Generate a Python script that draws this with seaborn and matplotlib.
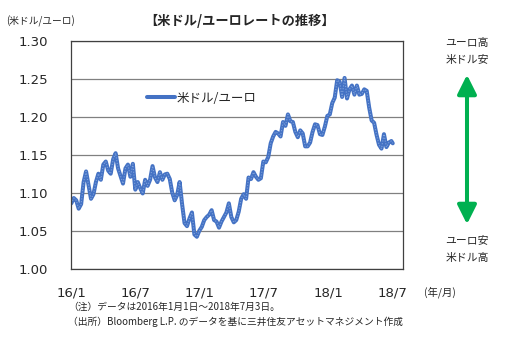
import numpy as np
import pandas as pd
import matplotlib
matplotlib.use("Agg")
import matplotlib.pyplot as plt
import matplotlib.dates as mdates
from matplotlib.patches import FancyArrowPatch
import seaborn as sns

# ---- data (weekly readings, USD per EUR) ----
rate_2016 = [1.086, 1.093, 1.090, 1.079, 1.085, 1.114, 1.128, 1.110, 1.092, 1.098,
             1.114, 1.125, 1.117, 1.137, 1.141, 1.129, 1.125, 1.144, 1.152, 1.132,
             1.122, 1.112, 1.132, 1.137, 1.121, 1.138, 1.104, 1.114, 1.106, 1.099,
             1.117, 1.109, 1.117, 1.135, 1.120, 1.114, 1.127, 1.117, 1.124, 1.125,
             1.118, 1.100, 1.090, 1.097, 1.114, 1.085, 1.060, 1.056, 1.066, 1.074,
             1.045, 1.042, 1.050]
rate_2017 = [1.055, 1.064, 1.068, 1.071, 1.077, 1.064, 1.062, 1.054, 1.062, 1.068,
             1.074, 1.086, 1.068, 1.061, 1.064, 1.075, 1.092, 1.098, 1.092, 1.120,
             1.118, 1.127, 1.121, 1.117, 1.119, 1.141, 1.140, 1.147, 1.165, 1.174,
             1.180, 1.178, 1.174, 1.193, 1.188, 1.203, 1.194, 1.193, 1.180, 1.173,
             1.182, 1.178, 1.161, 1.161, 1.166, 1.180, 1.190, 1.189, 1.177, 1.176,
             1.187, 1.201]
rate_2018 = [1.203, 1.218, 1.225, 1.248, 1.246, 1.226, 1.251, 1.224, 1.236, 1.241,
             1.229, 1.241, 1.229, 1.230, 1.236, 1.234, 1.212, 1.195, 1.192, 1.176,
             1.163, 1.158, 1.177, 1.160, 1.166, 1.168, 1.165]
rates = rate_2016 + rate_2017 + rate_2018
dates = list(pd.date_range("2016-01-01", "2018-06-29", freq="7D")) + [pd.Timestamp("2018-07-03")]

xtick_dates = ["2016-01-01", "2016-07-01", "2017-01-01", "2017-07-01", "2018-01-01", "2018-07-01"]
xtick_labels = ["16/1", "16/7", "17/1", "17/7", "18/1", "18/7"]
yticks = [1.00, 1.05, 1.10, 1.15, 1.20, 1.25, 1.30]
series_name = "米ドル/ユーロ"

df = pd.DataFrame({"date": dates, "rate": rates})

sns.set_style("white")
plt.rcParams["font.family"] = ["DejaVu Sans", "Noto Sans CJK JP"]
JP = ["Noto Sans CJK JP", "DejaVu Sans"]
TXT = "#262626"

fig = plt.figure(figsize=(5.18, 3.43), dpi=100)
W, H = 518, 343
ax = fig.add_axes([71.3 / W, 1 - 268.7 / H, (403.3 - 71.3) / W, (268.7 - 40.7) / H])

sns.lineplot(data=df, x="date", y="rate", ax=ax, color="#4472C4", lw=2.9,
             label=series_name)
# light texture inside the thick line
sns.lineplot(data=df, x="date", y="rate", ax=ax, color="#7FA2DC", lw=0.8,
             linestyle=(0, (1, 1.5)), legend=False)

ax.set_ylim(1.0, 1.3)
ax.set_yticks(yticks)
ax.set_yticklabels([f"{v:.2f}" for v in yticks])
ax.set_xlim(pd.Timestamp("2016-01-01"), pd.Timestamp("2018-08-02"))
ax.set_xticks([pd.Timestamp(d) for d in xtick_dates])
ax.set_xticklabels(xtick_labels)
ax.set_xlabel("")
ax.set_ylabel("")

ax.yaxis.grid(True, color="#808080", lw=0.9)
ax.xaxis.grid(False)
for s in ax.spines.values():
    s.set_color("#404040")
    s.set_linewidth(0.9)
ax.tick_params(axis="y", length=0, pad=17, labelsize=9.5, labelcolor=TXT)
ax.tick_params(axis="x", direction="in", length=4, width=0.8, color="#404040",
               pad=13, labelsize=9.5, labelcolor=TXT)

leg = ax.legend(loc="center left", bbox_to_anchor=((147 - 71.3) / 332, (268.7 - 98) / 228),
                frameon=False, borderpad=0, borderaxespad=0, handlelength=2.2,
                handletextpad=0.2, prop={"family": JP, "size": 9})
for t in leg.get_texts():
    t.set_color(TXT)

# texts
fig.text(240 / W, 1 - 21 / H, "【米ドル/ユーロレートの推移】", ha="center", va="center",
         fontsize=9.5, fontweight="bold", family=JP, color=TXT)
fig.text(6 / W, 1 - 21 / H, "(米ドル/ユーロ)", ha="left", va="center",
         fontsize=7, family=JP, color=TXT)
fig.text(424 / W, 1 - 292 / H, "(年/月)", ha="left", va="center",
         fontsize=7.5, family=JP, color=TXT)
fig.text(68 / W, 1 - 307 / H, "（注）データは2016年1月1日～2018年7月3日。", ha="left",
         va="center", fontsize=7, family=JP, color=TXT)
fig.text(68 / W, 1 - 322 / H, "（出所）Bloomberg L.P. のデータを基に三井住友アセットマネジメント作成",
         ha="left", va="center", fontsize=7, family=JP, color=TXT)

ax_x = 467 / W
fig.text(ax_x, 1 - 43 / H, "ユーロ高", ha="center", va="center", fontsize=7.8, family=JP, color=TXT)
fig.text(ax_x, 1 - 60 / H, "米ドル安", ha="center", va="center", fontsize=7.8, family=JP, color=TXT)
fig.text(ax_x, 1 - 240 / H, "ユーロ安", ha="center", va="center", fontsize=7.8, family=JP, color=TXT)
fig.text(ax_x, 1 - 258 / H, "米ドル高", ha="center", va="center", fontsize=7.8, family=JP, color=TXT)

arrow = FancyArrowPatch((ax_x, 1 - 72 / H), (ax_x, 1 - 227 / H), transform=fig.transFigure,
                        arrowstyle="<|-|>,head_length=0.8,head_width=0.4",
                        mutation_scale=14.4, lw=2.9, color="#00B050")
fig.patches.append(arrow)

fig.savefig("out.png", dpi=100)
